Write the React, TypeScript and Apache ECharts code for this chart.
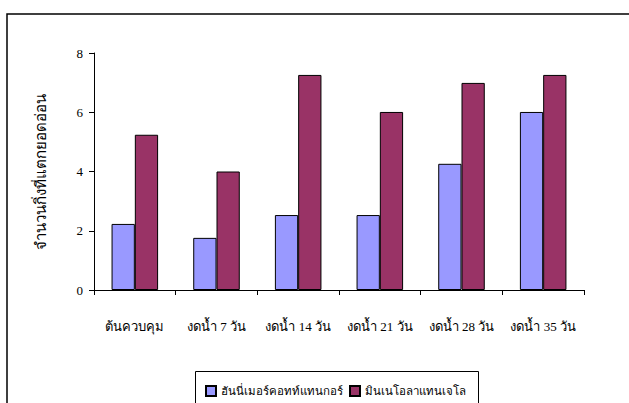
import React, { useEffect, useRef } from "react";
import * as echarts from "echarts";

const categories = ["ต้นควบคุม", "งดน้ำ 7 วัน", "งดน้ำ 14 วัน", "งดน้ำ 21 วัน", "งดน้ำ 28 วัน", "งดน้ำ 35 วัน"];
const seriesNames = ["ฮันนี่เมอร์คอทท์แทนกอร์", "มินเนโอลาแทนเจโล"];
const honeyMurcott = [2.23, 1.76, 2.53, 2.53, 4.26, 6.01];
const minneola = [5.24, 4.0, 7.26, 6.01, 6.99, 7.26];
const yAxisName = "จำนวนกิ่งที่แตกยอดอ่อน";

const FONT = "'Liberation Serif', 'Times New Roman', serif";

export default function App() {
  const ref = useRef<HTMLDivElement>(null);
  useEffect(() => {
    if (!ref.current) return;
    const chart = echarts.init(ref.current, undefined, { renderer: "svg" });
    chart.setOption({
      animation: false,
      backgroundColor: "#fff",
      textStyle: { fontFamily: FONT, color: "#000" },
      grid: { left: 94, right: 45, top: 53, bottom: 113 },
      legend: {
        left: 200,
        top: 380,
        itemWidth: 10,
        itemHeight: 10,
        itemGap: 6,
        icon: "rect",
        textStyle: { fontFamily: FONT, fontSize: 11.5, color: "#000" },
        data: seriesNames,
      },
      xAxis: {
        type: "category",
        data: categories,
        axisLine: { lineStyle: { color: "#000", width: 1 } },
        axisTick: { show: true, length: 5, lineStyle: { color: "#000" } },
        axisLabel: { color: "#000", fontSize: 13, margin: 30, fontFamily: FONT, interval: 0 },
      },
      yAxis: {
        type: "value",
        min: 0,
        max: 8,
        interval: 2,
        name: yAxisName,
        nameLocation: "middle",
        nameRotate: 90,
        nameGap: 46,
        nameTextStyle: { color: "#000", fontSize: 15, fontFamily: FONT },
        axisLine: { show: true, lineStyle: { color: "#000", width: 1 } },
        axisTick: { show: true, length: 5, lineStyle: { color: "#000" } },
        axisLabel: { color: "#000", fontSize: 13, margin: 11, fontFamily: FONT },
        splitLine: { show: false },
      },
      series: [
        {
          name: seriesNames[0],
          type: "bar",
          data: honeyMurcott,
          barGap: "0%",
          barCategoryGap: "43%",
          itemStyle: { color: "#9999FF", borderColor: "#000", borderWidth: 1 },
        },
        {
          name: seriesNames[1],
          type: "bar",
          data: minneola,
          barGap: "0%",
          barCategoryGap: "43%",
          itemStyle: { color: "#993366", borderColor: "#000", borderWidth: 1 },
        },
      ],
      graphic: [
        {
          type: "rect",
          shape: { x: 7, y: 14, width: 640, height: 420 },
          style: { fill: "none", stroke: "#000", lineWidth: 1.5 },
          silent: true,
        },
        {
          type: "rect",
          shape: { x: 195.5, y: 371.5, width: 283, height: 50 },
          style: { fill: "none", stroke: "#000", lineWidth: 1 },
          silent: true,
        },
      ],
    });
    return () => chart.dispose();
  }, []);
  return (
    <div
      ref={ref}
      style={{ position: "fixed", left: 0, top: 0, width: 629, height: 403 }}
    />
  );
}
